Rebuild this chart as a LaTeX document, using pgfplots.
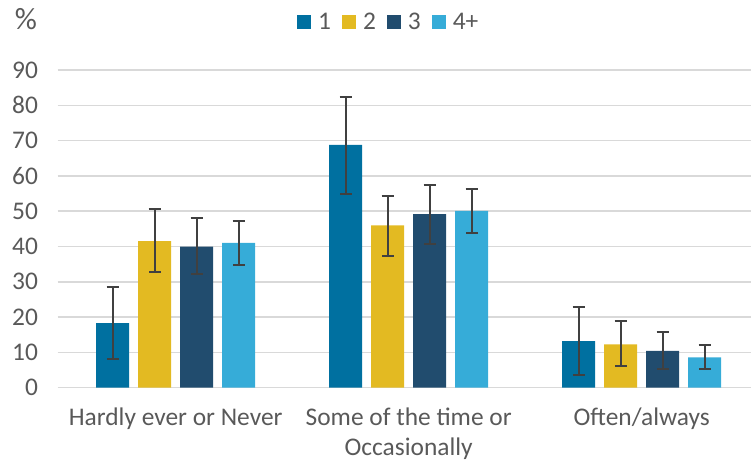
\documentclass[border=0pt]{standalone}
\usepackage{fontspec}
\setmainfont{Carlito}
\usepackage{pgfplots}
\pgfplotsset{compat=1.18}
\definecolor{cA}{RGB}{0,112,160}
\definecolor{cB}{RGB}{227,186,34}
\definecolor{cC}{RGB}{33,76,110}
\definecolor{cD}{RGB}{54,172,216}
\definecolor{txt}{RGB}{89,89,89}
\definecolor{grd}{RGB}{217,217,217}
\definecolor{err}{RGB}{64,64,64}
\begin{document}
\begin{tikzpicture}
\path[use as bounding box] (0,0) rectangle (751bp,463bp);
\begin{axis}[
  at={(57.5bp,75.3bp)}, anchor=south west,
  scale only axis, width=693.5bp, height=317.7bp,
  ybar=9bp, bar width=33bp,
  xmin=-0.507, xmax=2.469, ymin=0, ymax=90,
  xtick={0,1,2},
  xticklabels={{Hardly ever or Never},{Some of the time or\\Occasionally},{Often/always}},
  ytick={0,10,...,90},
  ymajorgrids, major grid style={line width=1.5bp, color=grd},
  axis line style={draw=none}, tick style={draw=none},
  /pgf/number format/assume math mode=true,
  ticklabel style={font=\fontsize{25.5}{31}\selectfont, text=txt},
  xticklabel style={align=center, yshift=-12bp},
  yticklabel style={xshift=-16bp},
  legend style={at={(0.3453,1.1511)}, anchor=west, draw=none, fill=none,
    legend columns=4, font=\fontsize{25.5}{31}\selectfont, text=txt, inner xsep=0pt,
    nodes={inner xsep=7bp},
    /tikz/every even column/.append style={column sep=4bp}},
  legend image code/.code={\fill[#1] (0bp,-7bp) rectangle (14bp,7bp);},
  error bars/y dir=both, error bars/y explicit,
  error bars/error bar style={line width=2bp, color=err},
  error bars/error mark options={rotate=90, mark size=6bp, line width=2bp, color=err},
]
\addplot[fill=cA, draw=none] coordinates {
  (0,18.3) += (0,10.2) -= (0,10.3)
  (1,68.8) += (0,13.6) -= (0,13.9)
  (2,13.2) += (0,9.8) -= (0,9.7)
};
\addplot[fill=cB, draw=none] coordinates {
  (0,41.5) += (0,9.0) -= (0,8.8)
  (1,46.0) += (0,8.4) -= (0,8.8)
  (2,12.3) += (0,6.7) -= (0,6.05)
};
\addplot[fill=cC, draw=none] coordinates {
  (0,40.0) += (0,8.1) -= (0,7.8)
  (1,49.2) += (0,8.1) -= (0,8.4)
  (2,10.4) += (0,5.3) -= (0,5.2)
};
\addplot[fill=cD, draw=none] coordinates {
  (0,41.0) += (0,6.2) -= (0,6.1)
  (1,50.1) += (0,6.2) -= (0,6.2)
  (2,8.6) += (0,3.6) -= (0,3.4)
};
\legend{1,2,3,4+}
\end{axis}
\node[text=txt, font=\fontsize{31}{36}\selectfont, anchor=center] at (26bp,444bp) {\%};
\end{tikzpicture}
\end{document}
